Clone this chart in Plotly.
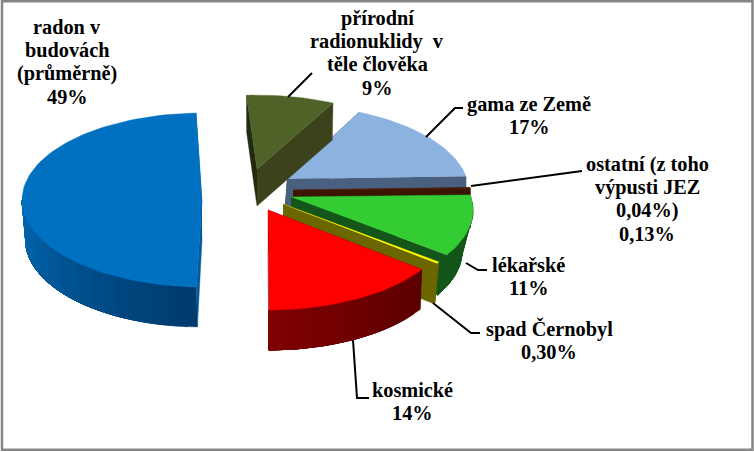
import math
import plotly.graph_objects as go

# --- data ---
labels = ["gama ze Země", "ostatní", "lékařské", "spad Černobyl", "kosmické", "radon v budovách", "přírodní radionuklidy"]
values = [17, 0.13, 11, 0.30, 14, 49, 9]

# --- style / geometry (pixels on a 754x452 page axis) ---
tops = ["#8CB2DF", "#7A3A12", "#33CC33", "#FFFF00", "#FF0000", "#0070C0", "#4F6228"]
wall_left = ["#3A4A60", "#3B1500", "#14561A", "#6B6600", "#800000", "#0068B2", "#222A10"]
wall_right = ["#3A4A60", "#3B1500", "#14561A", "#6B6600", "#5A0000", "#003A6C", "#222A10"]
cut_start = ["#3A4A60", "#3B1500", "#14561A", "#6B6600", "#5A0000", "#005A9C", "#222A10"]
cut_end = ["#4A6080", "#3B1500", "#14561A", "#6B6600", "#5A0000", "#005A9C", "#3B421C"]
apex_x = [287, 293, 291, 283, 268, 202, 257]
apex_y = [179, 190, 197, 204, 210, 200, 169]
persp = [0.15, 0.15, 0.15, 0.15, 0.15, 0.0, 0.15]
radius_x = [180, 178, 180, 180, 180, 180, 180]
radius_y = [85, 85, 85, 85, 85, 87, 85]
depth = [40, 40, 40, 40, 40, 40, 37]
lean = [1.0, 1.0, 0.95, 0.98, 0.99, 0.985, 0.99]
apex_shift = [-3, 0, 0, 0, 0, 0, 0]
rotate = [27, 27, 27, 27, 27, 29, 27]
VX = 260

text_items = [
    (["radon v", "budovách", "(průměrně)", "49%"], 67, 27),
    (["přírodní", "radionuklidy  v", "těle člověka", "9%"], 377, 18),
    (["gama ze Země", "17%"], 529, 104),
    (["ostatní (z toho", "výpusti JEZ", "0,04%)", "0,13%"], 647, 164),
    (["lékařské", "11%"], 528, 265),
    (["spad Černobyl", "0,30%"], 549, 329),
    (["kosmické", "14%"], 412, 390),
]
leaders_x = [[288, 312], [426, 455, 463], [471, 582], [466, 478, 487], [433, 471, 480], [353, 357, 369]]
leaders_y = [[97, 73], [137, 108, 108], [186, 171], [263, 270, 270], [303, 333, 333], [340, 398, 398]]

fig = go.Figure()


def poly(xs, ys, color):
    fig.add_trace(go.Scatter(x=xs, y=ys, mode="lines", fill="toself", fillcolor=color,
                             line=dict(color=color, width=0.4), hoverinfo="skip", showlegend=False))


def mix(a, b, f):
    ca = [int(a[i:i + 2], 16) for i in (1, 3, 5)]
    cb = [int(b[i:i + 2], 16) for i in (1, 3, 5)]
    return "#%02x%02x%02x" % tuple(round(p + (q - p) * f) for p, q in zip(ca, cb))


cum = 0.0
for i, v in enumerate(values):
    t0 = cum * 3.6 + rotate[i]
    t1 = (cum + v) * 3.6 + rotate[i]
    cum += v
    cx, cy = apex_x[i], apex_y[i]

    def rim(t):
        a = math.radians(t)
        X, Y = math.sin(a), math.cos(a)
        s = 1 / (1 + persp[i] * Y)
        return cx + radius_x[i] * X * s, cy - radius_y[i] * Y * s

    def low(p):
        return VX + (p[0] - VX) * lean[i], p[1] + depth[i]

    apex = (cx, cy)
    apex_low = (cx + apex_shift[i], cy + depth[i])
    p0, p1 = rim(t0), rim(t1)
    # cut faces
    poly([apex[0], p0[0], low(p0)[0], apex_low[0]], [apex[1], p0[1], low(p0)[1], apex_low[1]], cut_start[i])
    poly([apex[0], p1[0], low(p1)[0], apex_low[0]], [apex[1], p1[1], low(p1)[1], apex_low[1]], cut_end[i])
    # outer wall, shaded by painting ever shorter overlapping arcs so no seams show
    a0, a1 = max(t0, 90), min(t1, 270)
    if a1 > a0:
        n = max(2, int((a1 - a0) / 3))
        for k in range(n):
            ta = a0 + (a1 - a0) * k / n
            span = [ta + (a1 - ta) * q / 24 for q in range(25)]
            up = [rim(q) for q in span]
            dn = [low(p) for p in up][::-1]
            poly([p[0] for p in up + dn], [p[1] for p in up + dn],
                 mix(wall_right[i], wall_left[i], (k + 0.5) / n))
    # top face
    m = max(2, int((t1 - t0) / 2))
    pts = [rim(t0 + (t1 - t0) * k / m) for k in range(m + 1)]
    poly([apex[0]] + [p[0] for p in pts], [apex[1]] + [p[1] for p in pts], tops[i])

for lx, ly in zip(leaders_x, leaders_y):
    fig.add_trace(go.Scatter(x=lx, y=ly, mode="lines", line=dict(color="#000000", width=2),
                             hoverinfo="skip", showlegend=False))

for lines, x, y in text_items:
    for j, line in enumerate(lines):
        fig.add_annotation(x=x, y=y + j * 23.2, text="<b>" + line.replace("  ", "\u00a0 ") + "</b>",
                           showarrow=False, xanchor="center", yanchor="middle",
                           font=dict(family="Liberation Serif", size=20.3, color="#000000"))

fig.update_layout(
    width=754, height=452, margin=dict(l=0, r=0, t=0, b=0),
    paper_bgcolor="#FFFFFF", plot_bgcolor="#FFFFFF", showlegend=False,
    xaxis=dict(range=[0, 754], visible=False, fixedrange=True),
    yaxis=dict(range=[452, 0], visible=False, fixedrange=True),
    shapes=[dict(type="rect", x0=2, y0=1.3, x1=752.5, y1=449.7, line=dict(color="#868686", width=2.5))],
)
fig.write_html("out.html", config={"displayModeBar": False},
               post_script="document.body.style.margin='0';document.body.style.overflow='hidden';")
